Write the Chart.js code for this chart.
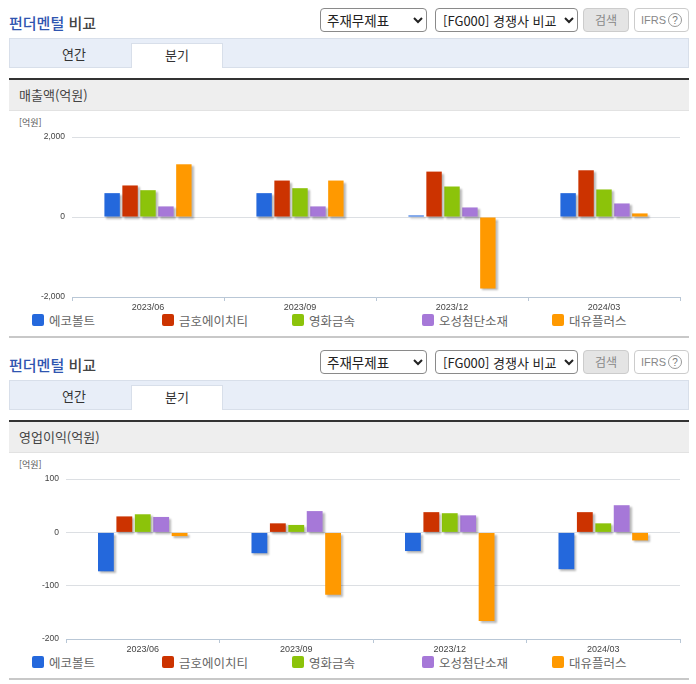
<!DOCTYPE html>
<html lang="ko">
<head>
<meta charset="utf-8">
<title>펀더멘털 비교</title>
<script src="https://cdn.jsdelivr.net/npm/chart.js@4.4.1/dist/chart.umd.min.js"></script>
<style>
  html, body { margin: 0; background: #fff; }
  body { width: 696px; height: 684px; position: relative; overflow: hidden; font-family: "Noto Sans CJK KR", "Noto Sans", sans-serif; color: #333; }
  .sec { position: absolute; left: 0; width: 696px; height: 342px; }
  .sec > * { position: absolute; box-sizing: border-box; }
  .title { left: 9px; top: 13px; font-size: 15px; line-height: 20px; font-weight: 500; color: #444; }
  .title b { color: #2f55b0; font-weight: 500; }
  select { top: 8px; height: 24px; font: 13.5px "Noto Sans CJK KR", sans-serif; color: #222; background: #fff; border: 1px solid #8a8a8a; border-radius: 4px; padding: 0 0 0 2px; }
  .s1 { left: 320px; width: 107px; }
  .s2 { left: 435px; width: 143px; padding-left: 3px; font-size: 13px; }
  .btn { left: 583px; top: 8px; width: 46px; height: 24px; background: #e4e4e4; border: 1px solid #ccc; border-radius: 4px; color: #888; font-size: 12px; line-height: 21px; text-align: center; }
  .ifrs { left: 634px; top: 8px; width: 55px; height: 24px; border: 1px solid #ccc; border-radius: 4px; color: #888; font: 11px/22px "Liberation Sans", sans-serif; padding-left: 6px; }
  .ifrs i { position: absolute; left: 33px; top: 4px; width: 14px; height: 14px; border: 1px solid #999; border-radius: 50%; font: 10px/14px "Liberation Sans", sans-serif; text-align: center; color: #777; box-sizing: border-box; }
  .tabs { left: 9px; top: 38px; width: 680px; height: 30px; background: #e8eef8; border: 1px solid #d8dfea; }
  .tab { top: 43px; height: 25px; font-size: 13px; line-height: 21px; text-align: center; color: #333; }
  .t1 { left: 9px; width: 130px; }
  .t2 { left: 131px; width: 92px; background: #fff; border: 1px solid #d8dfea; border-bottom: 0; }
  .band { left: 9px; top: 78px; width: 680px; height: 33px; background: #eee; border-top: 2px solid #333; border-bottom: 1px solid #e2e2e2; font-size: 13px; line-height: 30px; padding-left: 10px; color: #444; }
  .unit { left: 19px; top: 116px; font-size: 9px; line-height: 13px; color: #555; }
  .legend { left: 0; top: 314px; width: 696px; height: 13px; }
  .legend span { position: absolute; top: 0; font-size: 12.5px; line-height: 13px; color: #666; white-space: nowrap; }
  .legend i { position: absolute; top: 0; width: 12px; height: 12px; border-radius: 2px; }
  .rule { left: 9px; top: 336px; width: 680px; height: 2px; background: #c8c8c8; }
  canvas { position: absolute; left: 10px; top: 125px; }
</style>
</head>
<body>
<script>
const periods = ["2023/06", "2023/09", "2023/12", "2024/03"];
const companies = ["에코볼트", "금호에이치티", "영화금속", "오성첨단소재", "대유플러스"];
const colors = ["#2468dc", "#cc3300", "#8cc30a", "#a678d8", "#ff9900"];

const salesEco = [598, 598, 40, 598];
const salesKumho = [790, 913, 1137, 1170];
const salesYounghwa = [672, 722, 764, 690];
const salesOsung = [266, 266, 240, 340];
const salesDaeyu = [1320, 913, -1785, 91];

const profitEco = [-73, -39, -35, -69];
const profitKumho = [30, 17, 38, 38];
const profitYounghwa = [34, 14, 36, 17];
const profitOsung = [29, 40, 32, 51];
const profitDaeyu = [-7, -117, -166, -15];

const salesTicks = [-2000, 0, 2000];
const profitTicks = [-200, -100, 0, 100];

// drop shadow under the bars, as in the original
const barShadow = {
  id: "barShadow",
  beforeDatasetsDraw(c) {
    c.ctx.save();
    c.ctx.shadowColor = "rgba(0,0,0,0.28)";
    c.ctx.shadowOffsetX = 2;
    c.ctx.shadowOffsetY = 2;
    c.ctx.shadowBlur = 2;
  },
  afterDatasetsDraw(c) { c.ctx.restore(); }
};

function addSection(top, label, series, ticks, axisWidth, catPct) {
  const sec = document.createElement("div");
  sec.className = "sec";
  sec.style.top = top + "px";
  sec.innerHTML = `
    <div class="title"><b>펀더멘털</b> 비교</div>
    <select class="s1"><option>주재무제표</option></select>
    <select class="s2"><option>[FG000] 경쟁사 비교</option></select>
    <div class="btn">검색</div>
    <div class="ifrs">IFRS<i>?</i></div>
    <div class="tabs"></div>
    <div class="tab t1">연간</div>
    <div class="tab t2">분기</div>
    <div class="band">${label}</div>
    <div class="unit">[억원]</div>
    <div class="legend">${companies.map((n, i) =>
      `<i style="left:${32 + i * 130}px;background:${colors[i]}"></i><span style="left:${49 + i * 130}px">${n}</span>`).join("")}</div>
    <div class="rule"></div>`;
  const cv = document.createElement("canvas");
  cv.width = 680;
  cv.height = 187;
  cv.style.width = "680px";
  cv.style.height = "187px";
  sec.appendChild(cv);
  document.body.appendChild(sec);

  new Chart(cv.getContext("2d"), {
    type: "bar",
    plugins: [barShadow],
    data: {
      labels: periods,
      datasets: series.map((s, i) => ({
        label: companies[i],
        data: s,
        backgroundColor: colors[i],
        categoryPercentage: catPct,
        barPercentage: 0.86
      }))
    },
    options: {
      responsive: false,
      animation: false,
      devicePixelRatio: 1,
      layout: { padding: { top: 10.5, right: 10 } },
      plugins: { legend: { display: false }, tooltip: { enabled: false } },
      scales: {
        x: {
          afterFit(s) { s.height = 15; },
          border: { color: "#b9c7d6" },
          grid: { drawOnChartArea: false, color: "#b9c7d6", tickLength: 4, offset: true },
          ticks: { color: "#444", font: { family: "Liberation Sans", size: 9 }, padding: 1, maxRotation: 0 }
        },
        y: {
          min: ticks[0],
          max: ticks[ticks.length - 1],
          afterFit(s) { s.width = axisWidth; },
          afterBuildTicks(s) { s.ticks = ticks.map(v => ({ value: v })); },
          border: { display: false },
          grid: { color: "#dcdfe3", drawTicks: false },
          ticks: { color: "#444", font: { family: "Liberation Sans", size: 8.5 }, padding: 7, callback: v => v.toLocaleString("en-US") }
        }
      }
    }
  });
}

addSection(0, "매출액(억원)", [salesEco, salesKumho, salesYounghwa, salesOsung, salesDaeyu], salesTicks, 62, 0.59);
addSection(342, "영업이익(억원)", [profitEco, profitKumho, profitYounghwa, profitOsung, profitDaeyu], profitTicks, 56, 0.6);
</script>
</body>
</html>
